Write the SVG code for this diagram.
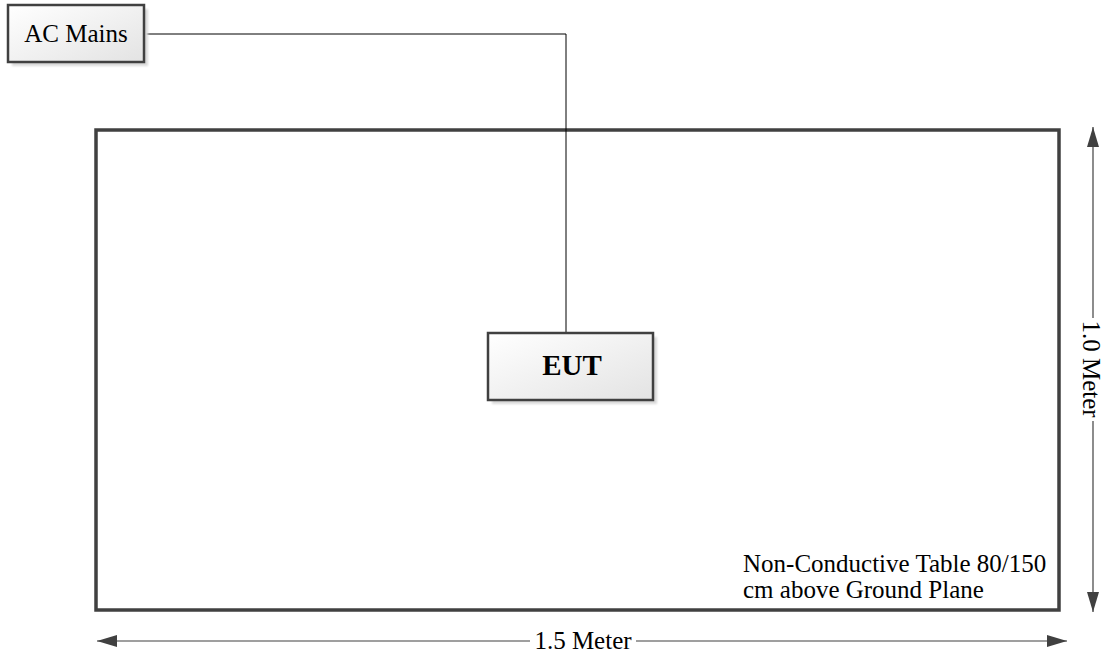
<svg xmlns="http://www.w3.org/2000/svg" width="1105" height="658" viewBox="0 0 1105 658">
<style>
.txt{font-family:"Liberation Serif","Times New Roman",serif;fill:#000;font-size:25px}
.box{stroke:#404040;stroke-width:2.5;fill:url(#g)}
.shadow{fill:#d9d9d9;filter:url(#blur)}
.dim{stroke:#404040;stroke-width:1.2;fill:none}
.conn{stroke:#000;stroke-width:1;fill:none}
</style>
<defs>
<linearGradient id="g" x1="0" y1="0" x2="1" y2="1">
<stop offset="0" stop-color="#ffffff"/>
<stop offset="1" stop-color="#e3e3e3"/>
</linearGradient>
<filter id="blur" x="-10%" y="-10%" width="120%" height="120%"><feGaussianBlur stdDeviation="1.2"/></filter>
<marker id="arr" viewBox="0 0 20 12" refX="20" refY="6" markerWidth="20" markerHeight="12" markerUnits="userSpaceOnUse" orient="auto">
<path d="M0,0 L20,6 L0,12 Z" fill="#404040"/>
</marker>
</defs>
<rect id="table" x="96" y="130" width="963" height="480" fill="none" stroke="#404040" stroke-width="3.5"/>
<g id="connectors">
<polyline class="conn" points="144,34 566,34 566,333"/>
<line class="dim" x1="530" y1="641" x2="97" y2="641" marker-end="url(#arr)"/>
<line class="dim" x1="636" y1="641" x2="1067" y2="641" marker-end="url(#arr)"/>
<line class="dim" x1="1093" y1="318" x2="1093" y2="127" marker-end="url(#arr)"/>
<line class="dim" x1="1093" y1="421" x2="1093" y2="612" marker-end="url(#arr)"/>
</g>
<g id="ac-mains">
<rect class="shadow" x="12" y="9" width="136" height="57"/>
<rect class="box" x="8" y="5" width="136" height="57"/>
<text class="txt" x="76" y="42" text-anchor="middle">AC Mains</text>
</g>
<g id="eut">
<rect class="shadow" x="492" y="337" width="165" height="67"/>
<rect class="box" x="488" y="333" width="165" height="67"/>
<text class="txt" x="572" y="375" style="font-size:29px" font-weight="bold" text-anchor="middle">EUT</text>
</g>
<g id="table-label">
<text class="txt" x="743" y="572">Non-Conductive Table 80/150</text>
<text class="txt" x="743" y="598">cm above Ground Plane</text>
</g>
<g id="width-label">
<text class="txt" x="583" y="649" text-anchor="middle">1.5 Meter</text>
</g>
<g id="height-label">
<text class="txt" transform="translate(1083,369) rotate(90)" x="0" y="0" text-anchor="middle">1.0 Meter</text>
</g>
</svg>
